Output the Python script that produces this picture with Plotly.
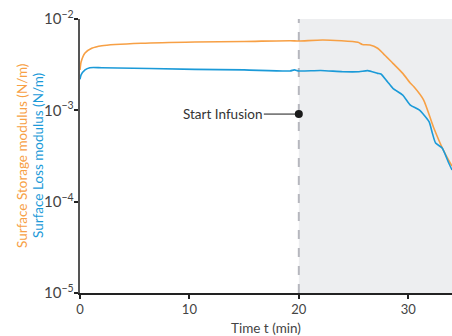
import plotly.graph_objects as go
import numpy as np

# time (min) and moduli (N/m)
t_storage = [0, 0.1, 0.46, 1.07, 2.0, 5.6, 10.5, 15, 19.2, 20, 22.2, 25.4, 25.8, 26.5,
             27.2, 27.7, 28.6, 29.5, 30.2, 30.5, 31.4, 32.3, 33.2, 34.0]
storage = [2.77e-3, 3.38e-3, 4.24e-3, 4.78e-3, 5.10e-3, 5.42e-3, 5.60e-3, 5.67e-3, 5.79e-3,
           5.74e-3, 5.89e-3, 5.56e-3, 5.26e-3, 5.19e-3, 4.78e-3, 4.21e-3, 3.27e-3, 2.54e-3,
           1.98e-3, 1.82e-3, 1.30e-3, 6.57e-4, 3.68e-4, 2.45e-4]

t_loss = [0, 0.1, 0.46, 0.9, 2.0, 10.5, 15, 19.2, 19.6, 20, 22, 24, 25.5, 26.3, 27.2, 27.5,
          28.1, 28.6, 29.5, 30.2, 31.0, 31.9, 32.2, 32.5, 33.1, 33.7, 34.0]
loss = [2.19e-3, 2.44e-3, 2.77e-3, 2.93e-3, 2.93e-3, 2.81e-3, 2.77e-3, 2.70e-3, 2.77e-3,
        2.70e-3, 2.73e-3, 2.65e-3, 2.65e-3, 2.72e-3, 2.54e-3, 2.50e-3, 2.06e-3, 1.74e-3,
        1.47e-3, 1.14e-3, 1.01e-3, 7.51e-4, 5.65e-4, 4.39e-4, 3.87e-4, 2.65e-4, 2.22e-4]

infusion_t = 20
infusion_y = 9.1e-4

x_ticks = [0, 10, 20, 30]

ORANGE = "#f7a045"
BLUE = "#1b9ad8"
FONT = "Lato"
TEXT = "#444"

fig = go.Figure()

fig.add_shape(type="rect", xref="x", yref="paper", x0=infusion_t, x1=34, y0=0, y1=1,
              fillcolor="#edeef0", line_width=0, layer="below")
fig.add_shape(type="line", xref="x", yref="paper", x0=infusion_t, x1=infusion_t, y0=0, y1=1,
              line=dict(color="#b6b7be", width=2, dash="dash"), layer="below")

fig.add_trace(go.Scatter(x=t_storage, y=storage, mode="lines",
                         line=dict(color=ORANGE, width=1.6, shape="spline", smoothing=0.6)))
fig.add_trace(go.Scatter(x=t_loss, y=loss, mode="lines",
                         line=dict(color=BLUE, width=1.6, shape="spline", smoothing=0.6)))
fig.add_trace(go.Scatter(x=[infusion_t], y=[infusion_y], mode="markers",
                         marker=dict(color="#1a1a1a", size=8)))

fig.add_annotation(x=infusion_t, y=np.log10(infusion_y), text="Start Infusion",
                   showarrow=True, arrowhead=0, arrowwidth=1, arrowcolor="#1a1a1a",
                   ax=-76, ay=0, font=dict(family=FONT, size=13.5, color="#333"))

# two-colour y-axis title
fig.add_annotation(xref="paper", yref="paper", x=0, y=0.5, xshift=-68, textangle=-90,
                   text="Surface Storage modulus (N/m)", showarrow=False,
                   font=dict(family=FONT, size=13.5, color=ORANGE))
fig.add_annotation(xref="paper", yref="paper", x=0, y=0.5, xshift=-52, textangle=-90,
                   text="Surface Loss modulus (N/m)", showarrow=False,
                   font=dict(family=FONT, size=13.5, color=BLUE))
# x-axis title
fig.add_annotation(xref="paper", yref="paper", x=0.5, y=0, yshift=-35, yanchor="middle",
                   text="Time t (min)", showarrow=False,
                   font=dict(family=FONT, size=13.5, color=TEXT))

fig.update_xaxes(range=[0, 34], tickvals=x_ticks, ticks="outside", ticklen=4, tickwidth=2,
                 tickcolor="#222", showline=True, linecolor="#222", linewidth=1.5,
                 showgrid=False, zeroline=False, automargin=False,
                 ticklabeloverflow="allow",
                 tickfont=dict(family=FONT, size=13, color=TEXT))
fig.update_yaxes(type="log", range=[-5, -2], dtick=1, exponentformat="power",
                 ticks="outside", ticklen=4, tickwidth=2, tickcolor="#222",
                 showline=True, linecolor="#555", linewidth=2, showgrid=False, zeroline=False,
                 automargin=False, ticklabeloverflow="allow", ticklabelstandoff=-2,
                 tickfont=dict(family=FONT, size=12, color=TEXT))

fig.update_layout(width=452, height=336, showlegend=False,
                  margin=dict(l=80, r=0, t=19, b=43),
                  paper_bgcolor="white", plot_bgcolor="white")

# drop the default body margin so the figure fills the window
fig.write_html("out.html", config={"displayModeBar": False},
               post_script="document.body.style.margin='0';")
